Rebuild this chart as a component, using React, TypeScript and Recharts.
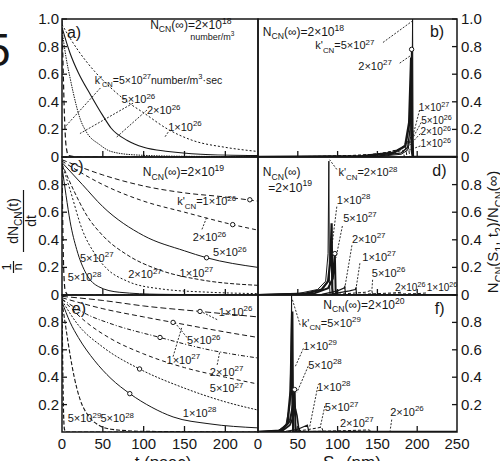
import React from 'react';
import { LineChart, Line, XAxis, YAxis, ReferenceArea, ReferenceLine, ReferenceDot } from 'recharts';

const FONT = '"Liberation Sans", Arial, Helvetica, sans-serif';
const INK = '#161616';

// ---------- ticks ----------
const T_TICKS = [0, 50, 100, 150, 200];
const S_TICKS = [0, 50, 100, 150, 200, 250];
const Y_FULL = [0, 0.2, 0.4, 0.6, 0.8, 1];
const Y_MID = [0, 0.2, 0.4, 0.6, 0.8];
const Y_LOW = [0.2, 0.4, 0.6, 0.8];

// ---------- panel a : N(inf)=2e18, rate vs t(ps) ----------
const a_1e26 = [[0,0.96],[10,0.86],[20,0.77],[40,0.62],[60,0.5],[80,0.4],[100,0.32],[130,0.2],[160,0.12],[200,0.07],[240,0.04]];
const a_2e26 = [[0,0.94],[10,0.75],[20,0.61],[35,0.45],[50,0.3],[60,0.21],[80,0.12],[100,0.07],[130,0.04],[170,0.02],[240,0.01]];
const a_5e26 = [[0,0.92],[5,0.72],[10,0.57],[14,0.46],[22,0.28],[30,0.18],[46,0.09],[60,0.04],[90,0.015],[150,0.005],[240,0.003]];
const a_5e27 = [[0,0.99],[1.5,0.62],[3,0.3],[5,0.08],[8,0.01],[20,0],[240,0]];

// ---------- panel b : N(inf)=2e18, distribution vs S1(nm) ----------
const b_5e27 = [[0,0],[150,0.003],[180,0.02],[188,0.05],[192,0.15],[193.5,0.5],[194.2,1],[194.8,0.2],[195.5,0],[250,0]];
const b_2e27 = [[0,0],[150,0.005],[180,0.03],[188,0.07],[191,0.2],[193,0.78],[194,0.1],[195,0],[250,0]];
const b_1e27 = [[0,0],[130,0.005],[170,0.03],[185,0.08],[190,0.25],[192.5,0.72],[193.3,0.05],[194.5,0],[250,0]];
const b_5e26 = [[0,0],[120,0.005],[160,0.03],[180,0.06],[188,0.12],[190,0.03],[191,0],[250,0]];
const b_2e26 = [[0,0],[100,0.005],[150,0.02],[175,0.05],[185,0.08],[187,0.01],[188,0],[250,0]];
const b_1e26 = [[0,0],[80,0.005],[140,0.015],[170,0.03],[182,0.05],[184,0],[250,0]];

// ---------- panel c : N(inf)=2e19 ----------
const c_1e26 = [[0,0.98],[50,0.87],[100,0.79],[150,0.74],[200,0.71],[240,0.68]];
const c_2e26 = [[0,0.97],[50,0.8],[100,0.68],[150,0.6],[209,0.51],[240,0.47]];
const c_5e26 = [[0,0.96],[25,0.8],[50,0.64],[100,0.43],[150,0.32],[177,0.27],[240,0.2]];
const c_1e27 = [[0,0.95],[15,0.75],[30,0.58],[50,0.43],[80,0.29],[120,0.18],[170,0.11],[240,0.07]];
const c_2e27 = [[0,0.95],[10,0.76],[25,0.47],[40,0.3],[55,0.19],[80,0.1],[120,0.045],[180,0.02],[240,0.01]];
const c_5e27 = [[0,0.93],[5,0.72],[10,0.53],[18,0.33],[30,0.15],[45,0.06],[70,0.02],[120,0.005],[240,0]];
const c_5e28 = [[0,0.95],[1,0.5],[2,0.2],[4,0.03],[8,0],[240,0]];

// ---------- panel d : N(inf)=2e19 ----------
const d_2e28 = [[0,0],[50,0.01],[75,0.04],[85,0.1],[88,0.3],[89,0.97],[89.7,0.1],[90.5,0],[250,0]];
const d_1e28 = [[0,0],[60,0.01],[80,0.04],[88,0.1],[91,0.25],[92.5,0.52],[93.3,0.05],[94,0],[250,0]];
const d_5e27 = [[0,0],[70,0.01],[88,0.05],[94,0.12],[96.5,0.3],[97.5,0.04],[98.5,0],[250,0]];
const d_2e27 = [[0,0],[80,0.005],[100,0.03],[108,0.05],[109,0.06],[110,0],[250,0]];
const d_1e27 = [[0,0],[90,0.005],[115,0.03],[122,0.04],[123,0.05],[124,0],[250,0]];
const d_5e26 = [[0,0],[100,0.005],[135,0.02],[143,0.035],[144,0],[250,0]];
const d_2e26 = [[0,0],[120,0.003],[170,0.015],[180,0.02],[181,0],[250,0]];
const d_1e26 = [[0,0],[140,0.003],[200,0.01],[212,0.015],[213,0],[250,0]];

// ---------- panel e : N(inf)=2e20 ----------
const e_1e26 = [[0,0.99],[50,0.96],[100,0.92],[169,0.88],[240,0.84]];
const e_5e26 = [[0,0.98],[50,0.9],[100,0.84],[136,0.8],[200,0.73],[240,0.69]];
const e_1e27 = [[0,0.97],[30,0.86],[60,0.79],[120,0.69],[180,0.6],[240,0.54]];
const e_2e27 = [[0,0.97],[30,0.8],[60,0.68],[100,0.57],[150,0.47],[200,0.4],[240,0.35]];
const e_5e27 = [[0,0.96],[20,0.78],[50,0.62],[95,0.46],[150,0.32],[200,0.22],[240,0.16]];
const e_1e28 = [[0,0.95],[10,0.8],[20,0.69],[40,0.52],[60,0.39],[83,0.28],[110,0.18],[136,0.11],[180,0.06],[240,0.03]];
const e_5e28 = [[0,0.95],[5,0.75],[10,0.56],[15,0.4],[22,0.24],[32,0.12],[45,0.05],[60,0.02],[100,0.005],[240,0]];
const e_5e29 = [[0,0.96],[1,0.45],[2,0.12],[3,0.02],[5,0],[240,0]];

// ---------- panel f : N(inf)=2e20 ----------
const f_5e29 = [[0,0],[25,0.01],[35,0.05],[40,0.2],[41.5,0.6],[42.2,1],[42.8,0.2],[43.5,0],[250,0]];
const f_1e29 = [[0,0],[28,0.01],[37,0.06],[41,0.3],[43,0.88],[43.8,0.1],[44.5,0],[250,0]];
const f_5e28 = [[0,0],[30,0.01],[40,0.08],[44,0.2],[46,0.31],[47,0.05],[48,0],[250,0]];
const f_1e28 = [[0,0],[30,0.005],[40,0.05],[45,0.12],[47,0.17],[49,0.12],[51,0.03],[53,0],[250,0]];
const f_5e27 = [[0,0],[35,0.005],[50,0.02],[58,0.04],[62,0.05],[64,0],[250,0]];
const f_2e27 = [[0,0],[40,0.003],[60,0.015],[75,0.03],[80,0.035],[82,0],[250,0]];
const f_2e26 = [[0,0],[60,0.003],[110,0.01],[140,0.015],[142,0],[250,0]];

// ---------- markers on curves ----------
const b_marks = [[193, 0.78]];
const c_marks = [[230, 0.69], [209, 0.51], [177, 0.27]];
const d_marks = [[96.5, 0.3]];
const e_marks = [[169, 0.88], [136, 0.8], [120, 0.69], [95, 0.46], [83, 0.28]];
const f_marks = [[46, 0.31]];

// ---------- annotation texts ----------
type Ann = { x: number; y: number; s: string; size?: number };
const a_anns: Ann[] = [
  { x: 6, y: 0.86, s: 'a)', size: 16 },
  { x: 108, y: 0.93, s: 'N_{CN}(∞)=2×10^{18}', size: 12 },
  { x: 157, y: 0.85, s: 'number/m^{3}', size: 9 },
  { x: 40, y: 0.53, s: "k'_{CN}=5×10^{27}number/m^{3}·sec", size: 10.5 },
  { x: 73, y: 0.39, s: '5×10^{26}' },
  { x: 104, y: 0.31, s: '2×10^{26}' },
  { x: 130, y: 0.19, s: '1×10^{26}' },
];
const b_anns: Ann[] = [
  { x: 216, y: 0.87, s: 'b)', size: 16 },
  { x: 6, y: 0.88, s: 'N_{CN}(∞)=2×10^{18}', size: 12 },
  { x: 72, y: 0.78, s: "k'_{CN}=5×10^{27}" },
  { x: 126, y: 0.63, s: '2×10^{27}' },
  { x: 202, y: 0.33, s: '1×10^{27}', size: 10 },
  { x: 205, y: 0.24, s: '5×10^{26}', size: 10 },
  { x: 204, y: 0.16, s: '2×10^{26}', size: 10 },
  { x: 204, y: 0.07, s: '1×10^{26}', size: 10 },
];
const c_anns: Ann[] = [
  { x: 10, y: 0.89, s: 'c)', size: 16 },
  { x: 99, y: 0.86, s: 'N_{CN}(∞)=2×10^{19}', size: 12 },
  { x: 141, y: 0.65, s: "k'_{CN}=1×10^{26}" },
  { x: 160, y: 0.39, s: '2×10^{26}' },
  { x: 185, y: 0.28, s: '5×10^{26}' },
  { x: 144, y: 0.13, s: '1×10^{27}' },
  { x: 81, y: 0.12, s: '2×10^{27}' },
  { x: 22, y: 0.24, s: '5×10^{27}' },
  { x: 7, y: 0.1, s: '5×10^{28}' },
];
const d_anns: Ann[] = [
  { x: 219, y: 0.86, s: 'd)', size: 16 },
  { x: 6, y: 0.86, s: 'N_{CN}(∞)', size: 12 },
  { x: 13, y: 0.75, s: '=2×10^{19}', size: 12 },
  { x: 101, y: 0.86, s: "k'_{CN}=2×10^{28}" },
  { x: 99, y: 0.66, s: '1×10^{28}' },
  { x: 107, y: 0.53, s: '5×10^{27}' },
  { x: 118, y: 0.38, s: '2×10^{27}' },
  { x: 131, y: 0.25, s: '1×10^{27}' },
  { x: 143, y: 0.13, s: '5×10^{26}' },
  { x: 172, y: 0.03, s: '2×10^{26}', size: 10 },
  { x: 212, y: 0.03, s: '1×10^{26}', size: 10 },
];
const e_anns: Ann[] = [
  { x: 12, y: 0.86, s: 'e)', size: 16 },
  { x: 192, y: 0.85, s: '1×10^{26}' },
  { x: 153, y: 0.64, s: '5×10^{26}' },
  { x: 128, y: 0.5, s: '1×10^{27}' },
  { x: 181, y: 0.41, s: '2×10^{27}' },
  { x: 181, y: 0.29, s: '5×10^{27}' },
  { x: 148, y: 0.11, s: '1×10^{28}' },
  { x: 7, y: 0.07, s: '5×10^{29}' },
  { x: 47, y: 0.07, s: '5×10^{28}' },
];
const f_anns: Ann[] = [
  { x: 222, y: 0.86, s: 'f)', size: 16 },
  { x: 82, y: 0.9, s: 'N_{CN}(∞)=2×10^{20}', size: 12 },
  { x: 55, y: 0.77, s: "k'_{CN}=5×10^{29}" },
  { x: 57, y: 0.6, s: '1×10^{29}' },
  { x: 63, y: 0.46, s: '5×10^{28}' },
  { x: 74, y: 0.3, s: '1×10^{28}' },
  { x: 84, y: 0.15, s: '5×10^{27}' },
  { x: 103, y: 0.04, s: '2×10^{27}' },
  { x: 166, y: 0.12, s: '2×10^{26}' },
];

// ---------- leader lines (data coords) ----------
const a_leads = [[47, 0.5, 4, 0.22], [87, 0.39, 22, 0.17], [104, 0.34, 67, 0.145], [130, 0.18, 126, 0.145]];
const b_leads = [[157, 0.83, 195, 0.99], [178, 0.68, 193, 0.74], [203, 0.34, 194, 0.14], [205, 0.25, 191, 0.1], [204, 0.17, 188, 0.07], [204, 0.08, 185, 0.04]];
const c_leads = [[177, 0.56, 171, 0.47]];
const d_leads = [[99, 0.91, 90, 0.98], [99, 0.64, 93, 0.36], [106, 0.5, 98, 0.27], [118, 0.36, 109, 0.05], [128, 0.23, 123, 0.04], [144, 0.11, 143, 0.03]];
const e_leads = [[190, 0.82, 170, 0.88], [153, 0.69, 138, 0.8], [136, 0.55, 147, 0.77], [190, 0.49, 193, 0.58]];
const f_leads = [[53, 0.78, 43, 0.97], [57, 0.61, 47, 0.48], [63, 0.48, 49, 0.29], [75, 0.33, 65, 0.04], [84, 0.19, 78, 0.03], [168, 0.09, 166, 0.01]];

// ---------- helpers ----------
const pts = (a: number[][]) => a.map(([x, y]) => ({ x, y }));

function Rich({ x, y, s, size = 11, anchor = 'start', transform }: any) {
  const parts: { t: string; k: string }[] = [];
  let i = 0, buf = '';
  while (i < s.length) {
    const c = s[i];
    if ((c === '_' || c === '^') && s[i + 1] === '{') {
      if (buf) { parts.push({ t: buf, k: 'n' }); buf = ''; }
      const j = s.indexOf('}', i);
      parts.push({ t: s.slice(i + 2, j), k: c === '_' ? 'sub' : 'sup' });
      i = j + 1;
    } else { buf += c; i++; }
  }
  if (buf) parts.push({ t: buf, k: 'n' });
  let cur = 0;
  return (
    <text x={x} y={y} transform={transform} fontSize={size} fontFamily={FONT} fill={INK} textAnchor={anchor}>
      {parts.map((p, idx) => {
        const target = p.k === 'sup' ? -size * 0.42 : p.k === 'sub' ? size * 0.3 : 0;
        const dy = target - cur;
        cur = target;
        return (
          <tspan key={idx} dy={dy} fontSize={p.k === 'n' ? size : size * 0.72}>{p.t}</tspan>
        );
      })}
    </text>
  );
}

type Series = { d: number[][]; dash?: string; w?: number; lin?: boolean };

function Panel(props: {
  side: 'left' | 'right'; row: number; series: Series[]; anns: Ann[]; leads: number[][]; marks: number[][];
  yTicks: number[]; xLabels: boolean;
}) {
  const { side, row, series, anns, leads, marks, yTicks, xLabels } = props;
  const L = side === 'left';
  const rows = [{ top: 19, h: 138 }, { top: 157, h: 138 }, { top: 295, h: 137 }];
  const plotX = L ? 62 : 258;
  const plotW = L ? 196 : 199;
  const yw = 40, mt = 10, xh = 24;
  const { top, h } = rows[row];
  const xDomain: [number, number] = L ? [0, 240] : [0, 250];
  const xTicks = L ? T_TICKS : S_TICKS;
  const W = plotW + yw + 6;
  const H = mt + h + xh;
  const divLeft = L ? plotX - yw : plotX - 6;
  const margin = L ? { top: mt, right: 6, bottom: 0, left: 0 } : { top: mt, right: 0, bottom: 0, left: 6 };

  const xTick = (p: any) => {
    const v = p.payload.value;
    return (
      <g>
        {v !== 0 && v !== 250 && <line x1={p.x} x2={p.x} y1={p.y} y2={p.y - 6} stroke={INK} strokeWidth={1.3} />}
        {xLabels && (
          <text x={p.x} y={p.y + 17} textAnchor="middle" fontSize={15} fontFamily={FONT} fill={INK}>{v}</text>
        )}
      </g>
    );
  };
  const yTick = (p: any) => {
    const v = p.payload.value;
    const ax = L ? p.x + 4 : p.x - 4;
    const lab = v === 1 ? '1.0' : v === 0 ? '0' : v.toFixed(1);
    return (
      <g>
        <line x1={ax} x2={L ? ax + 5 : ax - 5} y1={p.y} y2={p.y} stroke={INK} strokeWidth={1.3} />
        <text x={L ? ax - 3 : ax + 4} y={p.y + 5} textAnchor={L ? 'end' : 'start'} fontSize={15} fontFamily={FONT} fill={INK}>{lab}</text>
      </g>
    );
  };

  return (
    <div style={{ position: 'absolute', left: divLeft, top: top - mt }}>
      <LineChart width={W} height={H} margin={margin}>
        <XAxis type="number" dataKey="x" domain={xDomain} ticks={xTicks} interval={0} allowDataOverflow
          height={xh} axisLine={false} tickLine={false} tickSize={0} tickMargin={0} tick={xTick} />
        <YAxis type="number" domain={[0, 1]} ticks={yTicks} interval={0} allowDataOverflow orientation={side}
          width={yw} axisLine={false} tickLine={false} tickSize={0} tickMargin={4} tick={yTick} />
        <ReferenceArea x1={xDomain[0]} x2={xDomain[1]} y1={0} y2={1} fill="none" fillOpacity={0}
          stroke={INK} strokeWidth={1.5} ifOverflow="visible" />
        {series.map((s, i) => (
          <Line key={i} data={pts(s.d)} dataKey="y" type={s.lin ? 'linear' : 'monotone'} dot={false}
            stroke={INK} strokeWidth={s.w ?? 1} strokeDasharray={s.dash} isAnimationActive={false} />
        ))}
        {leads.map((l, i) => (
          <ReferenceLine key={'l' + i} segment={[{ x: l[0], y: l[1] }, { x: l[2], y: l[3] }]}
            stroke={INK} strokeWidth={0.9} strokeDasharray="2 1.5" ifOverflow="visible" />
        ))}
        {marks.map((m, i) => (
          <ReferenceDot key={'m' + i} x={m[0]} y={m[1]} r={2.2} fill="#fff" stroke={INK} strokeWidth={1} ifOverflow="visible" />
        ))}
        {anns.map((a, i) => (
          <ReferenceDot key={'a' + i} x={a.x} y={a.y} r={0} ifOverflow="visible"
            shape={(p: any) => <Rich x={p.cx} y={p.cy} s={a.s} size={a.size ?? 11} />} />
        ))}
      </LineChart>
    </div>
  );
}

export default function App() {
  return (
    <div style={{ position: 'absolute', left: 0, top: 0, width: 500, height: 461, background: '#fff', overflow: 'hidden' }}>
      <Panel side="left" row={0} yTicks={Y_FULL} xLabels={false} anns={a_anns} leads={a_leads} marks={[]}
        series={[
          { d: a_1e26, dash: '2 2' },
          { d: a_2e26, w: 1.1 },
          { d: a_5e26, dash: '1.5 1' },
          { d: a_5e27, dash: '5 3', w: 1.2 },
        ]} />
      <Panel side="right" row={0} yTicks={Y_FULL} xLabels={false} anns={b_anns} leads={b_leads} marks={b_marks}
        series={[
          { d: b_1e26, dash: '3 2', lin: true },
          { d: b_2e26, dash: '3 2', lin: true },
          { d: b_5e26, dash: '3 2', lin: true },
          { d: b_1e27, w: 2.5, lin: true },
          { d: b_2e27, w: 1.4, lin: true },
          { d: b_5e27, w: 1, lin: true },
        ]} />
      <Panel side="left" row={1} yTicks={Y_MID} xLabels={false} anns={c_anns} leads={c_leads} marks={c_marks}
        series={[
          { d: c_1e26, dash: '5 3' },
          { d: c_2e26, dash: '4 3' },
          { d: c_5e26, w: 1 },
          { d: c_1e27, dash: '4 2' },
          { d: c_2e27, dash: '2 2' },
          { d: c_5e27, w: 1 },
          { d: c_5e28, dash: '5 3', w: 1.2 },
        ]} />
      <Panel side="right" row={1} yTicks={Y_MID} xLabels={false} anns={d_anns} leads={d_leads} marks={d_marks}
        series={[
          { d: d_1e26, dash: '3 2', lin: true },
          { d: d_2e26, dash: '3 2', lin: true },
          { d: d_5e26, dash: '3 2', lin: true },
          { d: d_1e27, w: 1.2, lin: true },
          { d: d_2e27, w: 1.2, lin: true },
          { d: d_5e27, w: 2, lin: true },
          { d: d_1e28, w: 2.2, lin: true },
          { d: d_2e28, w: 1, lin: true },
        ]} />
      <Panel side="left" row={2} yTicks={Y_LOW} xLabels={true} anns={e_anns} leads={e_leads} marks={e_marks}
        series={[
          { d: e_1e26, dash: '6 3' },
          { d: e_5e26, dash: '5 3' },
          { d: e_1e27, dash: '4 2 1 2' },
          { d: e_2e27, dash: '4 3' },
          { d: e_5e27, dash: '2 1.5' },
          { d: e_1e28, w: 1 },
          { d: e_5e28, dash: '4 2', w: 1.1 },
          { d: e_5e29, dash: '4 2', w: 1.2 },
        ]} />
      <Panel side="right" row={2} yTicks={Y_LOW} xLabels={true} anns={f_anns} leads={f_leads} marks={f_marks}
        series={[
          { d: f_2e26, dash: '3 2', lin: true },
          { d: f_2e27, dash: '3 2', lin: true },
          { d: f_5e27, w: 1.2, lin: true },
          { d: f_1e28, w: 1.6, lin: true },
          { d: f_5e28, w: 2, lin: true },
          { d: f_1e29, w: 2.4, lin: true },
          { d: f_5e29, w: 1, lin: true },
        ]} />

      <svg width={500} height={461} style={{ position: 'absolute', left: 0, top: 0, pointerEvents: 'none' }}>
        <text x={-15} y={66} fontSize={46} fontFamily={FONT} fill={INK}>5</text>
        {/* left axis title: (1/n) dN_CN(t)/dt */}
        <Rich transform="translate(11,267) rotate(-90)" x={0} y={0} s="1" size={13} anchor="middle" />
        <line x1={13.5} x2={13.5} y1={261} y2={273} stroke={INK} strokeWidth={1.2} />
        <Rich transform="translate(22,267) rotate(-90)" x={0} y={0} s="n" size={13} anchor="middle" />
        <Rich transform="translate(18,221) rotate(-90)" x={0} y={0} s="dN_{CN}(t)" size={14} anchor="middle" />
        <line x1={23.5} x2={23.5} y1={190} y2={252} stroke={INK} strokeWidth={1.2} />
        <Rich transform="translate(36,221) rotate(-90)" x={0} y={0} s="dt" size={14} anchor="middle" />
        {/* right axis title */}
        <Rich transform="translate(498,232) rotate(-90)" x={0} y={0} s="N_{CN}(S_{1}, t_{2})/N_{CN}(∞)" size={15} anchor="middle" />
        {/* x axis titles */}
        <Rich x={163} y={468} s="t (psec)" size={17} anchor="middle" />
        <Rich x={352} y={468} s="S_{1} (nm)" size={17} anchor="middle" />
      </svg>
    </div>
  );
}
